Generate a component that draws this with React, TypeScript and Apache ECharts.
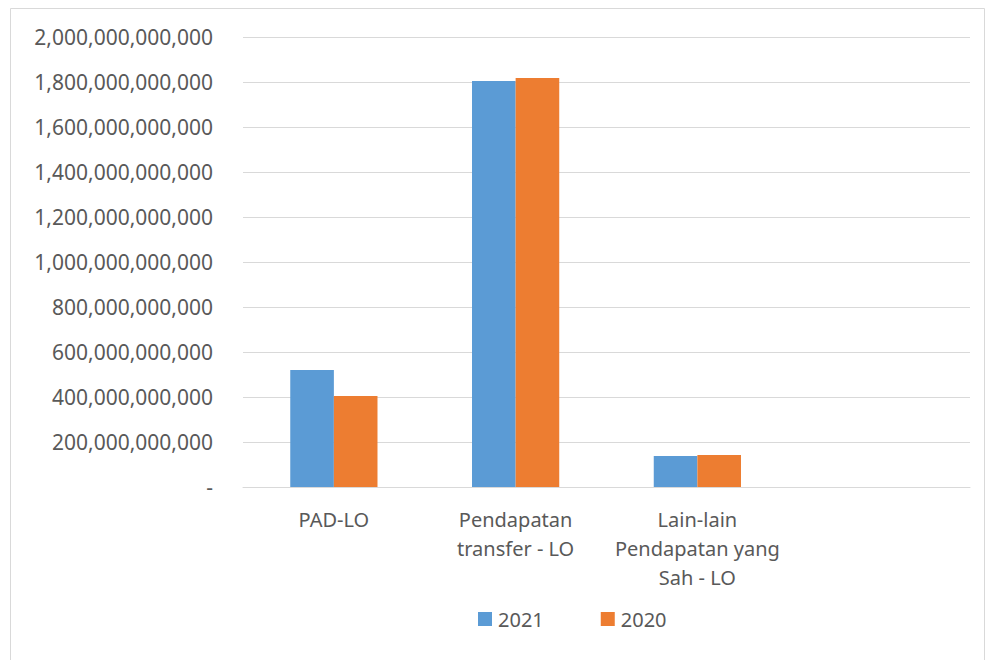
import React, { useEffect, useRef } from "react";
import * as echarts from "echarts";

const categories = ["PAD-LO", "Pendapatan\ntransfer - LO", "Lain-lain\nPendapatan yang\nSah - LO", ""];
const series2021 = [520000000000, 1805000000000, 138000000000, null];
const series2020 = [404000000000, 1818000000000, 142000000000, null];
const seriesNames = ["2021", "2020"];

export default function App() {
  const ref = useRef<HTMLDivElement>(null);
  useEffect(() => {
    const chart = echarts.init(ref.current!, null, { renderer: "svg" });
    const font = "Noto Sans";
    chart.setOption({
      animation: false,
      backgroundColor: "#ffffff",
      graphic: [
        {
          type: "rect",
          shape: { x: 10.5, y: 8.5, width: 974, height: 660 },
          style: { fill: "none", stroke: "#d9d9d9", lineWidth: 1 },
          silent: true,
        },
      ],
      grid: { left: 243, right: 15, top: 37, height: 450 },
      legend: {
        data: seriesNames,
        top: 604,
        left: 473,
        itemWidth: 14,
        itemHeight: 14,
        itemGap: 57,
        icon: "rect",
        textStyle: { fontFamily: font, fontSize: 20, color: "#595959", padding: [0, 0, 0, 1] },
      },
      xAxis: {
        type: "category",
        data: categories,
        axisLine: { lineStyle: { color: "#d9d9d9", width: 1 } },
        axisTick: { show: false },
        axisLabel: {
          interval: 0,
          margin: 18,
          fontFamily: font,
          fontSize: 20,
          lineHeight: 29,
          color: "#595959",
          align: "center",
        },
      },
      yAxis: {
        type: "value",
        min: 0,
        max: 2000000000000,
        interval: 200000000000,
        axisLine: { show: false },
        axisTick: { show: false },
        splitLine: { lineStyle: { color: "#d9d9d9", width: 1 } },
        axisLabel: {
          margin: 30,
          fontFamily: font,
          fontSize: 21,
          color: "#595959",
          formatter: (v: number) => (v === 0 ? "-" : v.toLocaleString("en-US")),
        },
      },
      series: [
        {
          name: seriesNames[0],
          type: "bar",
          data: series2021,
          itemStyle: { color: "#5B9BD5" },
          barGap: "0%",
          barCategoryGap: "52%",
        },
        {
          name: seriesNames[1],
          type: "bar",
          data: series2020,
          itemStyle: { color: "#ED7D31" },
          barGap: "0%",
          barCategoryGap: "52%",
        },
      ],
    });
    return () => chart.dispose();
  }, []);
  return <div ref={ref} style={{ width: 985, height: 660, position: "absolute", left: 0, top: 0 }} />;
}
